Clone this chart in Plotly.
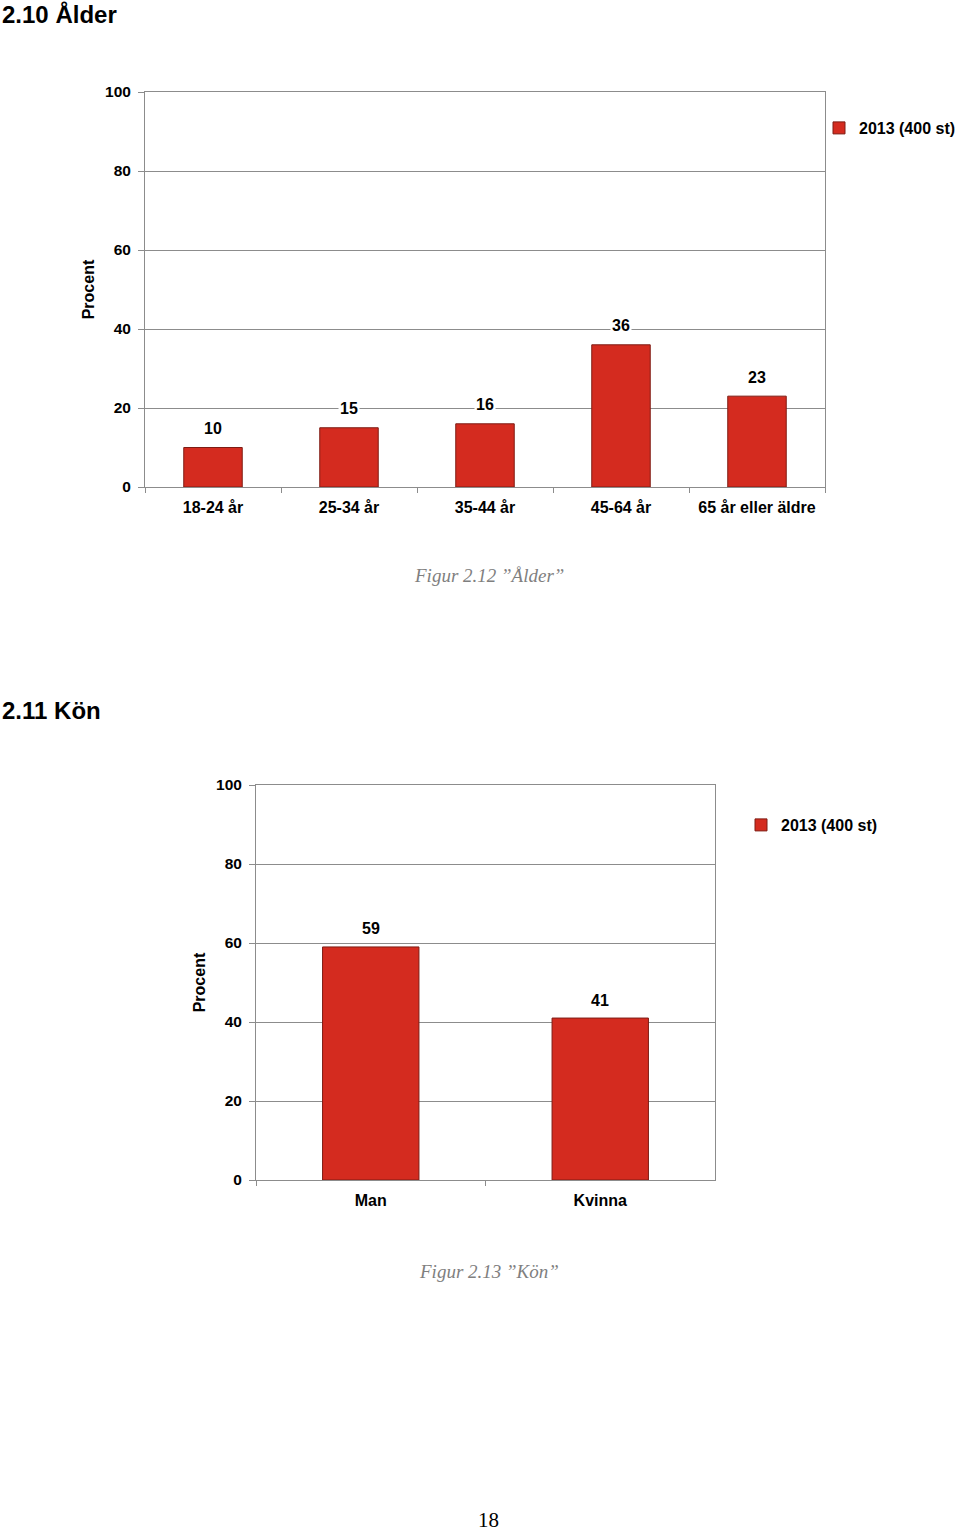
import plotly.graph_objects as go

W, H = 960, 1534

# Data
age_categories = ["18-24 år", "25-34 år", "35-44 år", "45-64 år", "65 år eller äldre"]
age_values = [10, 15, 16, 36, 23]
gender_categories = ["Man", "Kvinna"]
gender_values = [59, 41]
series_name = "2013 (400 st)"
y_ticks = [0, 20, 40, 60, 80, 100]

BAR = "#D42B1F"
BAR_LINE = "#7E1C14"
GRID = "#8C8C8C"
FONT = "Arial, Liberation Sans, sans-serif"
SERIF = "Georgia, Liberation Serif, serif"

def px_x(p):
    return p / W

def px_y(p):
    return 1 - p / H

fig = go.Figure()

fig.add_trace(go.Bar(
    x=age_categories, y=age_values, name=series_name,
    marker=dict(color=BAR, line=dict(color=BAR_LINE, width=1)),
    width=0.43, xaxis="x", yaxis="y", legend="legend",
    hoverinfo="x+y",
))
fig.add_trace(go.Bar(
    x=gender_categories, y=gender_values, name=series_name,
    marker=dict(color=BAR, line=dict(color=BAR_LINE, width=1)),
    width=0.42, xaxis="x2", yaxis="y2", legend="legend2",
    hoverinfo="x+y",
))

annotations = []
for c, v in zip(age_categories, age_values):
    annotations.append(dict(x=c, y=v, xref="x", yref="y", text=f"<b>{v}</b>",
                            showarrow=False, yanchor="middle", yshift=19,
                            bgcolor="white", borderpad=1,
                            font=dict(family=FONT, size=16, color="black")))
for c, v in zip(gender_categories, gender_values):
    annotations.append(dict(x=c, y=v, xref="x2", yref="y2", text=f"<b>{v}</b>",
                            showarrow=False, yanchor="middle", yshift=18,
                            bgcolor="white", borderpad=1,
                            font=dict(family=FONT, size=16, color="black")))

# Headings and captions
annotations += [
    dict(x=0, y=px_y(14), xref="paper", yref="paper", xanchor="left", yanchor="middle",
         text="<b>2.10 Ålder</b>", showarrow=False,
         font=dict(family=FONT, size=24, color="black")),
    dict(x=0, y=px_y(710), xref="paper", yref="paper", xanchor="left", yanchor="middle",
         text="<b>2.11 Kön</b>", showarrow=False,
         font=dict(family=FONT, size=24, color="black")),
    dict(x=px_x(489), y=px_y(575), xref="paper", yref="paper", xanchor="center", yanchor="middle",
         text="<i>Figur 2.12 \u201dÅlder\u201d</i>", showarrow=False,
         font=dict(family=SERIF, size=19, color="#7F7F7F")),
    dict(x=px_x(489), y=px_y(1271), xref="paper", yref="paper", xanchor="center", yanchor="middle",
         text="<i>Figur 2.13 \u201dKön\u201d</i>", showarrow=False,
         font=dict(family=SERIF, size=19, color="#7F7F7F")),
    dict(x=px_x(488), y=px_y(1520), xref="paper", yref="paper", xanchor="center", yanchor="middle",
         text="18", showarrow=False,
         font=dict(family=SERIF, size=21, color="black")),
]

def yaxis_common(domain):
    return dict(
        domain=domain, range=[0, 100], tickvals=y_ticks, ticktext=[f"<b>{t}</b>" for t in y_ticks],
        showgrid=True, gridcolor=GRID, gridwidth=1, zeroline=False,
        showline=True, linecolor=GRID, linewidth=1, mirror=True,
        ticks="outside", ticklen=6, tickcolor=GRID, ticklabelstandoff=4,
        tickfont=dict(family=FONT, size=15.5, color="black"),
        title=dict(text="<b>Procent</b>", standoff=6,
                   font=dict(family=FONT, size=16, color="black")),
        automargin=False, fixedrange=True,
    )

def xaxis_common(domain, anchor):
    return dict(
        domain=domain, anchor=anchor, type="category",
        showline=True, linecolor=GRID, linewidth=1, mirror=True,
        ticks="outside", ticklen=5, tickcolor=GRID, tickson="boundaries",
        showgrid=False, ticklabelstandoff=6,
        tickfont=dict(family=FONT, size=16, color="black"),
        automargin=False, fixedrange=True,
    )

xa1 = xaxis_common([px_x(145), px_x(825)], "y")
xa1["tickvals"] = age_categories
xa1["ticktext"] = [f"<b>{c}</b>" for c in age_categories]
xa2 = xaxis_common([px_x(256), px_x(715)], "y2")
xa2["tickvals"] = gender_categories
xa2["ticktext"] = [f"<b>{c}</b>" for c in gender_categories]

ya1 = yaxis_common([px_y(487), px_y(92)])
ya1["anchor"] = "x"
ya2 = yaxis_common([px_y(1180), px_y(785)])
ya2["anchor"] = "x2"

fig.update_layout(
    width=W, height=H,
    margin=dict(l=0, r=0, t=0, b=0, autoexpand=False),
    paper_bgcolor="white", plot_bgcolor="white",
    showlegend=True,
    xaxis=xa1, yaxis=ya1, xaxis2=xa2, yaxis2=ya2,
    legend=dict(x=px_x(819), y=px_y(128), xanchor="left", yanchor="middle",
                bgcolor="rgba(0,0,0,0)", borderwidth=0,
                font=dict(family=FONT, size=16, color="black", weight="bold"),
                itemwidth=30),
    legend2=dict(x=px_x(741), y=px_y(825), xanchor="left", yanchor="middle",
                 bgcolor="rgba(0,0,0,0)", borderwidth=0,
                 font=dict(family=FONT, size=16, color="black", weight="bold"),
                 itemwidth=30),
    annotations=annotations,
    bargap=0.57,
)

fig.write_html("out.html")
